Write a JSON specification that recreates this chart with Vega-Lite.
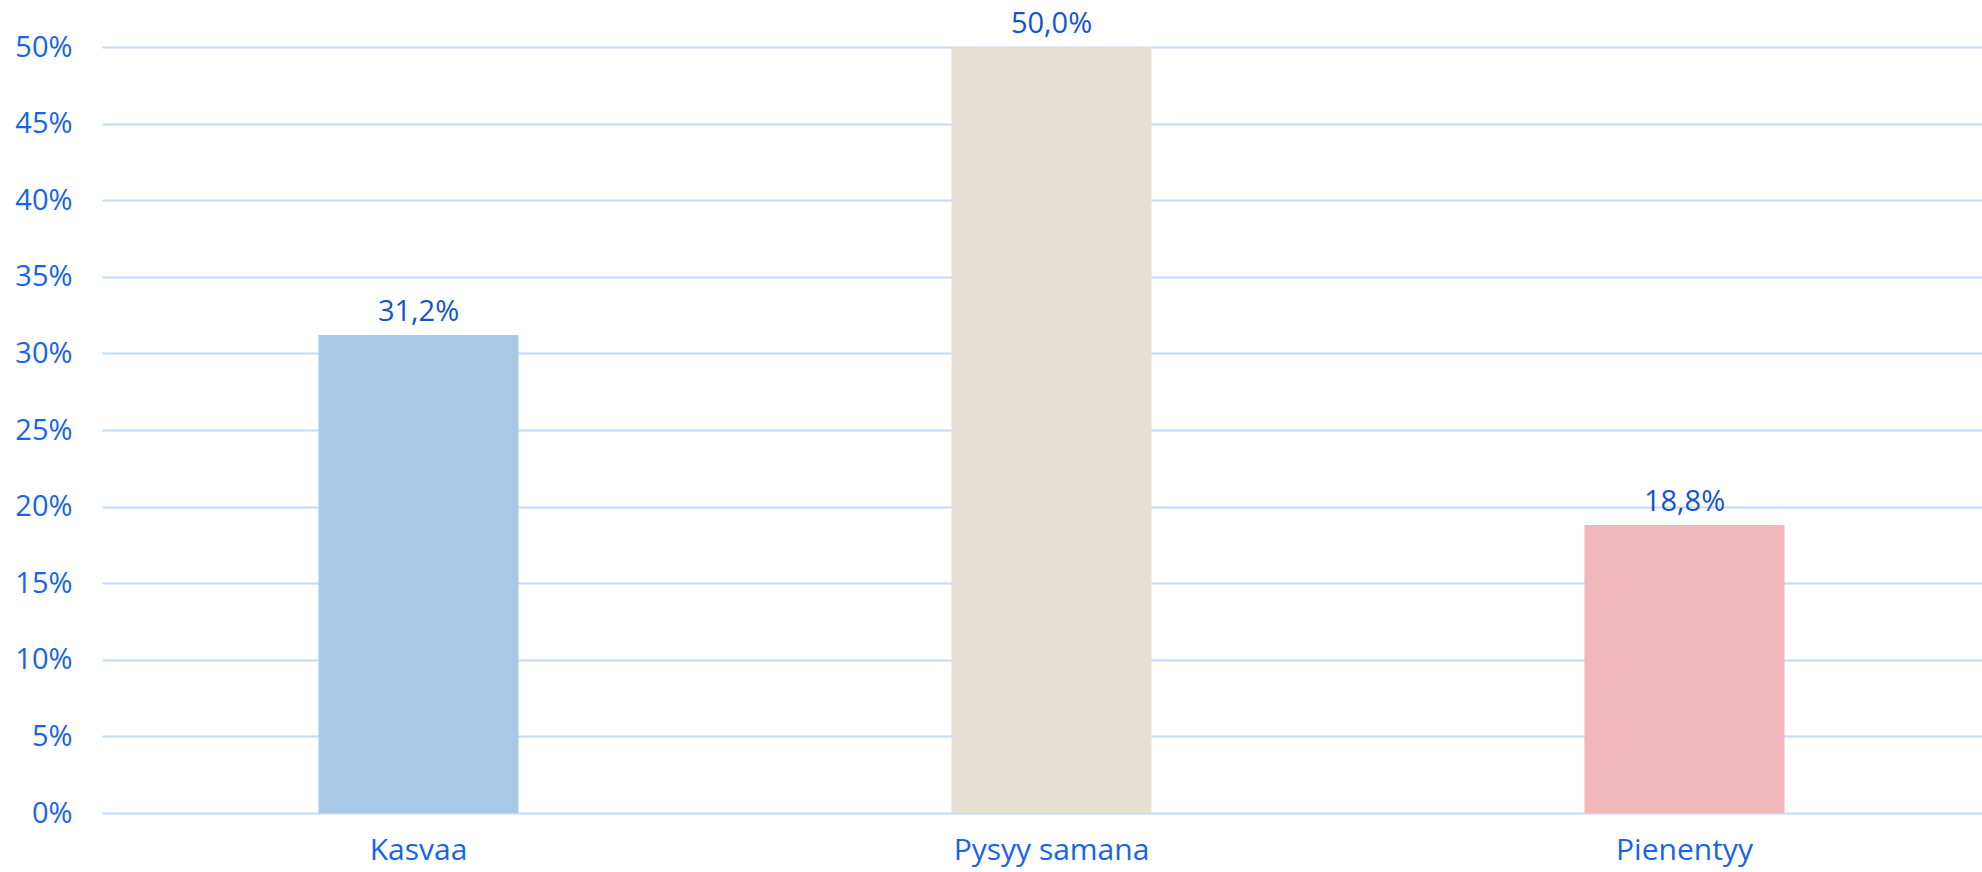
{
  "$schema": "https://vega.github.io/schema/vega-lite/v6.json",
  "width": 1880,
  "height": 766,
  "autosize": {"type": "none"},
  "padding": {"left": 102, "top": 47, "right": 0, "bottom": 59},
  "background": "#ffffff",
  "config": {
    "view": {"stroke": null},
    "locale": {"number": {"decimal": ",", "thousands": " ", "grouping": [3], "currency": ["", " €"]}},
    "font": "Open Sans"
  },
  "data": {
    "values": [
      {"category": "Kasvaa", "share": 0.312},
      {"category": "Pysyy samana", "share": 0.5},
      {"category": "Pienentyy", "share": 0.188}
    ]
  },
  "encoding": {
    "x": {
      "field": "category",
      "type": "nominal",
      "sort": ["Kasvaa", "Pysyy samana", "Pienentyy"],
      "scale": {"range": [0, 1899], "paddingInner": 0.684, "paddingOuter": 0.342},
      "axis": {
        "title": null,
        "domain": false,
        "ticks": false,
        "labelAngle": 0,
        "labelFont": "Open Sans",
        "labelFontSize": 30,
        "labelFontWeight": "normal",
        "labelLimit": 0,
        "labelColor": "#1764e8",
        "labelPadding": 22,
        "labelBaseline": "top"
      }
    },
    "y": {
      "field": "share",
      "type": "quantitative",
      "scale": {"domain": [0, 0.5], "nice": false},
      "axis": {
        "title": null,
        "domain": false,
        "ticks": false,
        "values": [0, 0.05, 0.1, 0.15, 0.2, 0.25, 0.3, 0.35, 0.4, 0.45, 0.5],
        "format": ".0%",
        "labelFont": "Open Sans",
        "labelFontSize": 29,
        "labelFontWeight": "normal",
        "labelColor": "#1764e8",
        "labelPadding": 30,
        "grid": true,
        "gridColor": "#c2d9f7",
        "gridWidth": 2
      }
    }
  },
  "layer": [
    {
      "mark": {"type": "bar"},
      "encoding": {
        "color": {
          "field": "category",
          "type": "nominal",
          "scale": {"domain": ["Kasvaa", "Pysyy samana", "Pienentyy"], "range": ["#a8c9e6", "#e6e0d4", "#f2b6bd"]},
          "legend": null
        }
      }
    },
    {
      "mark": {"type": "text", "baseline": "bottom", "dy": -8, "fontSize": 29, "fontWeight": "normal", "font": "Open Sans", "color": "#1254cf"},
      "encoding": {
        "text": {"field": "share", "type": "quantitative", "format": ".1%"}
      }
    }
  ]
}
